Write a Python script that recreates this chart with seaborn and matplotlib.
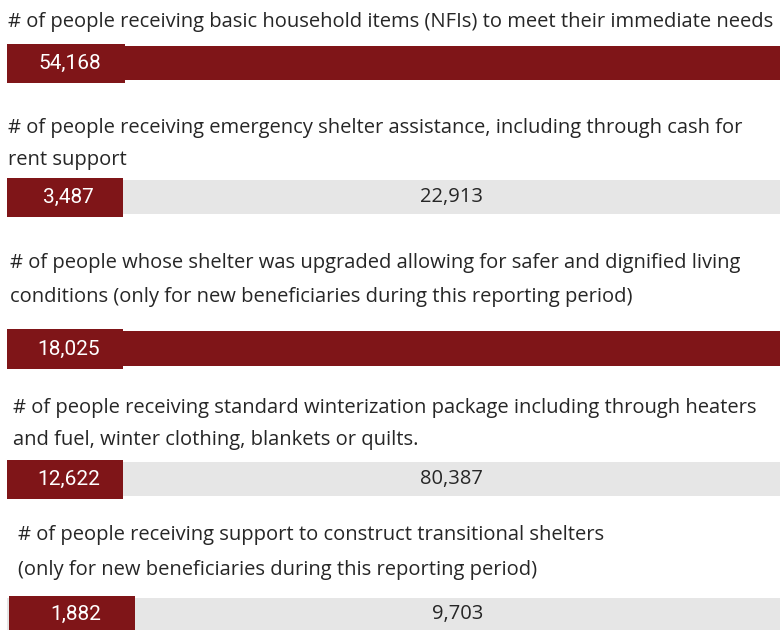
import seaborn as sns
import matplotlib.pyplot as plt

# indicator titles, achieved values and targets (None = no target shown)
titles = [
    ["# of people receiving basic household items (NFIs) to meet their immediate needs"],
    ["# of people receiving emergency shelter assistance, including through cash for",
     "rent support"],
    ["# of people whose shelter was upgraded allowing for safer and dignified living",
     "conditions (only for new beneficiaries during this reporting period)"],
    ["# of people receiving standard winterization package including through heaters",
     "and fuel, winter clothing, blankets or quilts."],
    ["# of people receiving support to construct transitional shelters",
     "(only for new beneficiaries during this reporting period)"],
]
achieved = [54168, 3487, 18025, 12622, 1882]
targets = [None, 22913, None, 80387, 9703]

RED = "#7f1518"
GREY = "#e6e6e6"
TXT = "#262626"
W, H = 780, 630

# pixel layout: title line centres, title x, bar top/bottom, label box x0/x1
title_y = [[22], [128, 160], [263, 297], [408, 440], [535, 570]]
title_x = [8, 8, 10, 13, 18]
bar_y = [(46, 80), (180, 214), (331, 366), (462, 496), (598, 630)]
box_x = [(7, 125), (7, 123), (7, 123), (7, 123), (9, 135)]

sns.set_theme(style="white")
plt.rcParams["font.family"] = ["Open Sans", "DejaVu Sans"]
fig = plt.figure(figsize=(W / 100, H / 100), dpi=100)


def rect(x0, x1, y0, y1):
    return [x0 / W, 1 - y1 / H, (x1 - x0) / W, (y1 - y0) / H]


for i in range(len(titles)):
    for line, ty in zip(titles[i], title_y[i]):
        fig.text(title_x[i] / W, 1 - ty / H, line, fontsize=14.5, color=TXT,
                 va="center", ha="left")

    y0, y1 = bar_y[i]
    full = targets[i] if targets[i] is not None else achieved[i]
    # background bar (target, or achieved when no target)
    ax = fig.add_axes(rect(7, 780, y0, y1))
    sns.barplot(x=[full], y=[0], orient="h", ax=ax, width=1, linewidth=0,
                color=GREY if targets[i] is not None else RED, saturation=1)
    ax.set_xlim(0, full)
    ax.axis("off")
    if targets[i] is not None:
        bx1 = box_x[i][1]
        ax.text(((bx1 + 780) / 2 - 7) / (780 - 7), 0.5, f"{targets[i]:,}",
                transform=ax.transAxes, ha="center", va="center",
                fontsize=14.5, color=TXT)

    # label box with achieved value
    bx0, bx1 = box_x[i]
    ax2 = fig.add_axes(rect(bx0, bx1, y0 - 2, y1 + 3))
    sns.barplot(x=[achieved[i]], y=[0], orient="h", ax=ax2, width=1,
                linewidth=0, color=RED, saturation=1)
    ax2.set_xlim(0, achieved[i])
    ax2.axis("off")
    ax2.text(0.53, 0.5, f"{achieved[i]:,}", transform=ax2.transAxes,
             ha="center", va="center", fontsize=15, color="white",
             family=["Roboto", "DejaVu Sans"])

fig.savefig("out.png", dpi=100)
